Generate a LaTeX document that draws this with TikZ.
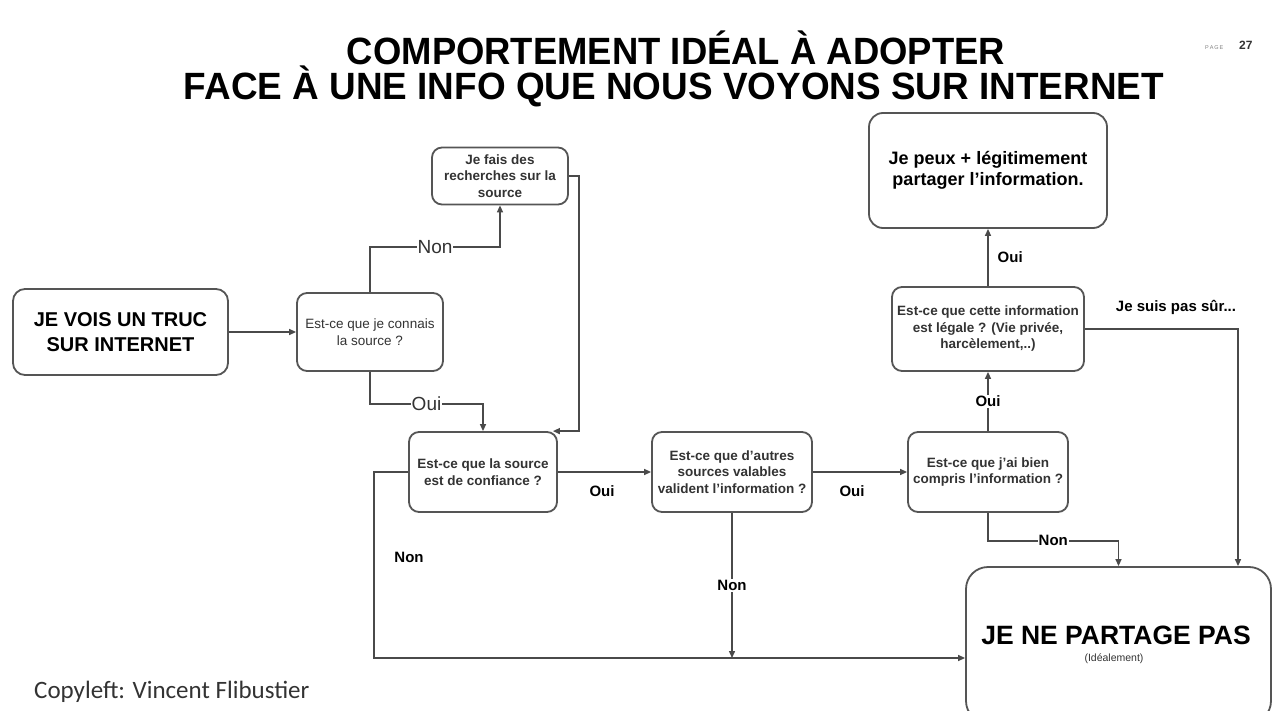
\documentclass[tikz,border=0pt]{standalone}
\usepackage{graphicx}
\usepackage{fontspec}
\setmainfont{Liberation Sans}
\newfontfamily\calfont{Carlito}
\usetikzlibrary{arrows.meta,calc}
\definecolor{edge}{HTML}{4A4A4A}
\definecolor{frame}{HTML}{555555}
\definecolor{ink}{HTML}{333333}
\newcommand{\fs}[2]{\fontsize{#1}{#2}\selectfont}

\begin{document}
\begin{tikzpicture}[x=1pt,y=-1pt,
  box/.style={draw=frame, line width=1.8pt, rounded corners=10pt, align=center,
              inner sep=0pt, fill=white},
  q/.style={box, font=\fs{13.5}{16.5}\bfseries, text=ink},
  link/.style={draw=edge, line width=1.4pt, -{Triangle[length=7pt,width=6pt]}},
  lab/.style={font=\fs{15}{15}\bfseries, text=black, inner sep=1pt},
  labw/.style={lab, fill=white},
  big/.style={font=\fs{19}{19}, text=ink, fill=white, inner sep=1pt},
]
\path[use as bounding box] (0,0) rectangle (1280,711);
\clip (0,0) rectangle (1280,711);
\fill[white] (0,0) rectangle (1280,711);

% title
\node[anchor=base] (t1) at (676,65)
  {\resizebox{658pt}{\height}{\fs{38}{38}\bfseries COMPORTEMENT IDÉAL À ADOPTER}};
\node[anchor=base] (t2) at (674,100)
  {\resizebox{980pt}{\height}{\fs{38}{38}\bfseries FACE À UNE INFO QUE NOUS VOYONS SUR INTERNET}};
\node[anchor=base west, font=\fs{5.5}{5.5}, text=gray, inner sep=0pt] (pg) at (1205,50) {P\,A\,G\,E};
\node[anchor=base west, font=\fs{12}{12}\bfseries, text=ink, inner sep=0pt] (pn) at (1239,50) {27};

% boxes
\node[box, rounded corners=12pt, minimum width=215pt, minimum height=86pt,
      font=\fs{20}{25}\bfseries] (A) at (120.5,332) {JE VOIS UN TRUC\\SUR INTERNET};
\node[q, minimum width=146pt, minimum height=78pt] (B) at (370,332)
  {\mdseries Est-ce que je connais\\\mdseries la source ?};
\node[q, minimum width=136pt, minimum height=57pt] (C) at (500,176)
  {Je fais des\\recherches sur la\\source};
\node[q, minimum width=148pt, minimum height=80pt] (D) at (483,472)
  {Est-ce que la source\\est de confiance ?};
\node[q, minimum width=160pt, minimum height=80pt] (E) at (732,472)
  {Est-ce que d'autres\\sources valables\\valident l'information ?};
\node[q, minimum width=160pt, minimum height=80pt] (F) at (988,472)
  {Est-ce que j'ai bien\\compris l'information ?};
\node[q, minimum width=192pt, minimum height=84pt] (H) at (988,329)
  {Est-ce que cette information\\est légale ? (Vie privée,\\harcèlement,..)};
\node[box, rounded corners=14pt, minimum width=238pt, minimum height=115pt,
      font=\fs{18}{21}\bfseries] (I) at (988,170.5) {Je peux + légitimement\\partager l'information.};
\node[box, rounded corners=22pt, minimum width=305pt, minimum height=156pt] (G) at (1118.5,645) {};
\node[font=\fs{26.5}{26.5}\bfseries, inner sep=0pt] (gt) at (1116,635) {JE NE PARTAGE PAS};
\node[font=\fs{10.5}{10.5}, text=ink, inner sep=0pt] (gs) at (1114,659) {(Idéalement)};

% connector corners
\coordinate (hr) at (1238,329);
\coordinate (dl) at (374,658);

% connectors
\draw[link] (A) -- (B);
\draw[link] (B.north) -- ++(0,-45) -| node[pos=0.25, big] {Non} (C.south);
\draw[link] (B.south) -- ++(0,32) -| node[pos=0.25, big] {Oui} (D.north);
\draw[link] (C.east) -- ++(10,0) |- ($(D.north east)+(-5,0)$);
\draw[link] (D) -- (E);
\draw[link] (E) -- (F);
\draw[link] (F) -- node[labw] {Oui} (H);
\draw[link] (H) -- node[lab, anchor=west, xshift=8pt] {Oui} (I);
\draw[link] (H.east) -- (hr) -- (hr |- G.north);
\draw[link] (F.south) -- ++(0,28) -| node[pos=0.25, labw] {Non} (G.north);
\draw[link] (D.west) -| (dl) -- (dl -| G.west);
\draw[link] (E.south) -- node[labw] {Non} (E.south |- dl);

% free labels
\node[lab] (l1) at (602,491) {Oui};
\node[lab] (l2) at (852,491) {Oui};
\node[lab] (l3) at (409,557) {Non};
\node[lab] (l4) at (1176,307) {Je suis pas sûr...};

% credit
\node[anchor=base west, font=\calfont\fs{25}{25}, text=ink, inner sep=0pt] (cr) at (34,698)
  {Copyleft: Vincent Flibustier};
\end{tikzpicture}
\end{document}
